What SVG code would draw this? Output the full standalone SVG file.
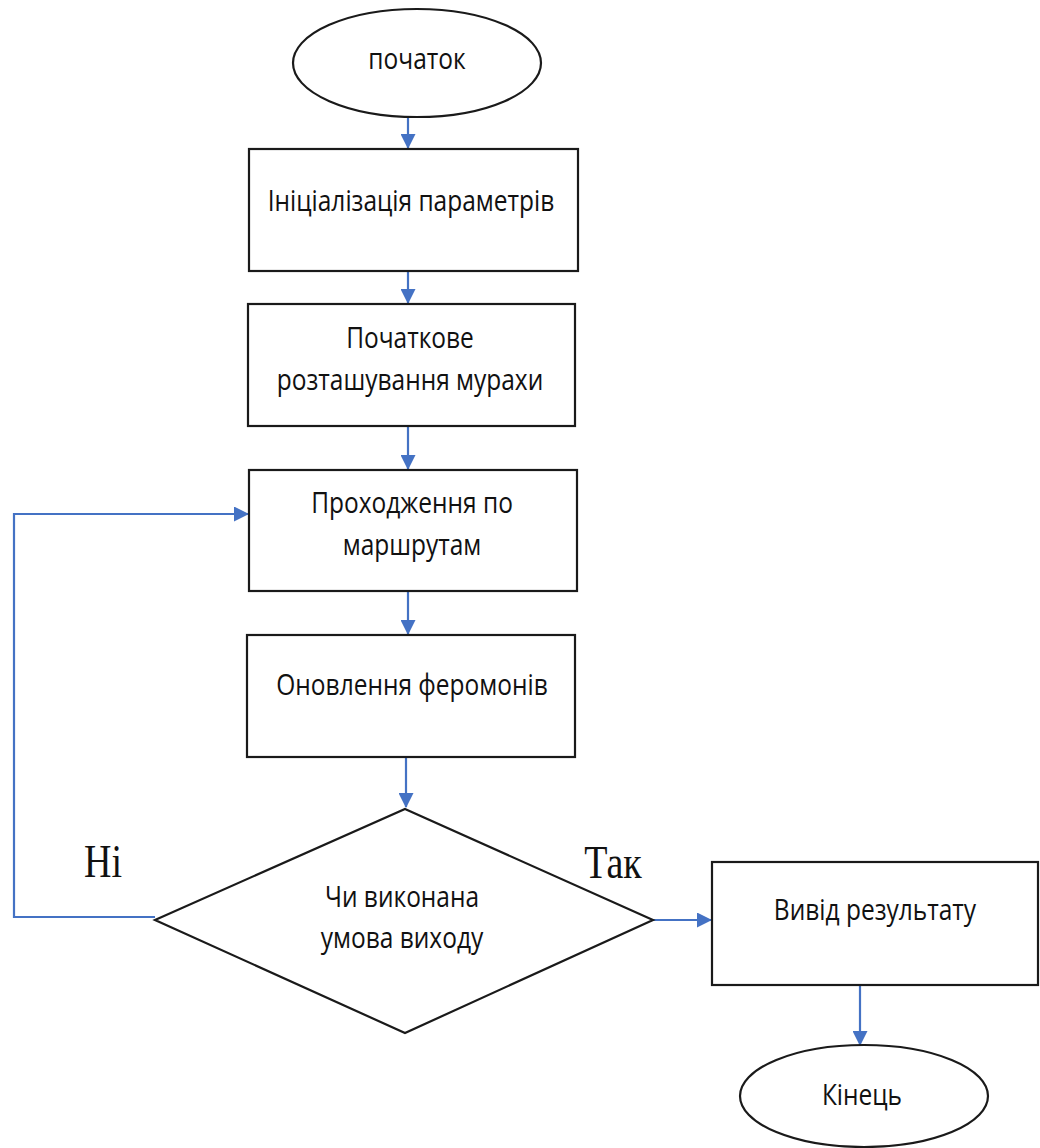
<svg xmlns="http://www.w3.org/2000/svg" width="1040" height="1148" viewBox="0 0 1040 1148">
  <style>
    .shape { fill: #ffffff; stroke: #1a1a1a; stroke-width: 2.2; }
    .lbl { font-family: "Open Sans", "Noto Sans", sans-serif; font-size: 24.5px; fill: #111111; text-anchor: middle; }
    .yn { font-family: "Liberation Serif", "DejaVu Serif", serif; font-size: 38px; fill: #111111; text-anchor: middle; }
    .link { fill: none; stroke: #4472c4; stroke-width: 2.2; marker-end: url(#arrow); }
  </style>
  <defs>
    <marker id="arrow" markerUnits="userSpaceOnUse" markerWidth="15" markerHeight="15" viewBox="0 0 15 15" refX="14" refY="7.5" orient="auto">
      <path d="M0,0 L15,7.5 L0,15 Z" fill="#4472c4"/>
    </marker>
  </defs>
  <rect width="1040" height="1148" fill="#ffffff"/>

  <g id="connectors">
    <line class="link" x1="408" y1="117" x2="408" y2="148"/>
    <line class="link" x1="408" y1="271" x2="408" y2="303"/>
    <line class="link" x1="408" y1="426" x2="408" y2="469"/>
    <line class="link" x1="408" y1="591" x2="408" y2="634"/>
    <line class="link" x1="406" y1="757" x2="406" y2="807"/>
    <polyline class="link" points="155,917 14,917 14,514 248,514"/>
    <line class="link" x1="653" y1="920" x2="711" y2="920"/>
    <line class="link" x1="860" y1="985" x2="860" y2="1045"/>
  </g>

  <g id="start">
    <ellipse class="shape" cx="417" cy="63" rx="124" ry="54"/>
    <text class="lbl" transform="translate(417,69) scale(1,1.16)">початок</text>
  </g>

  <g id="init">
    <rect class="shape" x="249" y="149" width="329" height="122"/>
    <text class="lbl" transform="translate(411,211) scale(1,1.16)">Ініціалізація параметрів</text>
  </g>

  <g id="placement">
    <rect class="shape" x="248" y="304" width="327" height="122"/>
    <text class="lbl" transform="translate(410,348) scale(1,1.16)">Початкове</text>
    <text class="lbl" transform="translate(410,390) scale(1,1.16)">розташування мурахи</text>
  </g>

  <g id="routes">
    <rect class="shape" x="249" y="470" width="328" height="121"/>
    <text class="lbl" transform="translate(412,513) scale(1,1.16)">Проходження по</text>
    <text class="lbl" transform="translate(412,555) scale(1,1.16)">маршрутам</text>
  </g>

  <g id="pheromones">
    <rect class="shape" x="247" y="635" width="328" height="122"/>
    <text class="lbl" transform="translate(412,695) scale(1,1.16)">Оновлення феромонів</text>
  </g>

  <g id="condition">
    <polygon class="shape" points="405,809 653,920 405,1033 155,920"/>
    <text class="lbl" transform="translate(402,907) scale(1,1.16)">Чи виконана</text>
    <text class="lbl" transform="translate(402,948) scale(1,1.16)">умова виходу</text>
  </g>

  <g id="labels">
    <text class="yn" transform="translate(103,877) scale(1,1.2)">Ні</text>
    <text class="yn" transform="translate(613,878) scale(1,1.2)">Так</text>
  </g>

  <g id="output">
    <rect class="shape" x="712" y="862" width="326" height="123"/>
    <text class="lbl" transform="translate(875,920) scale(1,1.16)">Вивід результату</text>
  </g>

  <g id="end">
    <ellipse class="shape" cx="864" cy="1096" rx="124" ry="51"/>
    <text class="lbl" transform="translate(862,1105) scale(1,1.16)">Кінець</text>
  </g>
</svg>
